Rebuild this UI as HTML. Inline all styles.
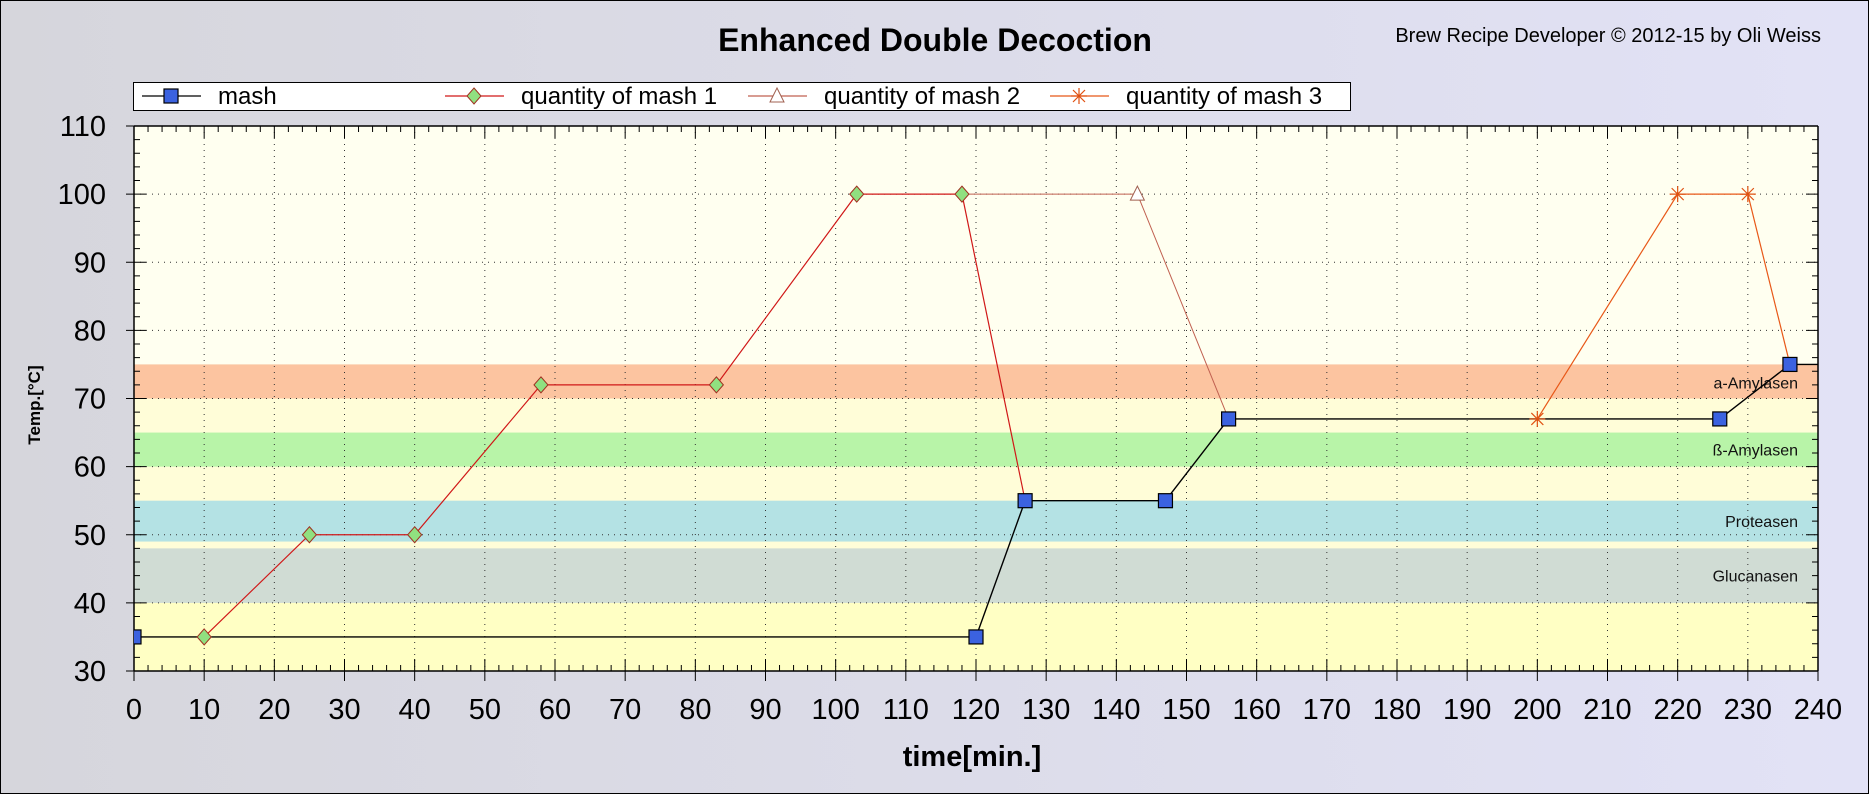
<!DOCTYPE html>
<html><head><meta charset="utf-8"><style>
html,body{margin:0;padding:0}
body{width:1869px;height:794px;overflow:hidden;font-family:"Liberation Sans",sans-serif}
</style></head><body>
<svg id="chart" width="1869" height="794" xmlns="http://www.w3.org/2000/svg" font-family="Liberation Sans, sans-serif">
<defs>
<linearGradient id="bg" x1="0" x2="1" y1="0" y2="0"><stop offset="0" stop-color="#d6d6dc"/><stop offset="1" stop-color="#e2e2f6"/></linearGradient>
<clipPath id="pc"><rect x="134" y="126" width="1684" height="545"/></clipPath>
</defs>
<rect x="0.5" y="0.5" width="1868" height="793" fill="url(#bg)" stroke="#000"/>
<text x="935" y="51" font-size="32" font-weight="bold" text-anchor="middle">Enhanced Double Decoction</text>
<text x="1821" y="42" font-size="20" text-anchor="end">Brew Recipe Developer © 2012-15 by Oli Weiss</text>
<g id="legend"></g>
<g id="plot"></g>
<text x="972" y="766" font-size="29" font-weight="bold" text-anchor="middle">time[min.]</text>
<text transform="translate(40,405) rotate(-90)" font-size="17" font-weight="bold" text-anchor="middle">Temp.[°C]</text>
</svg>
<script>
const mashX=[0,120,127,147,156,226,236,240];
const mashY=[35,35,55,55,67,67,75,75];
const mash1X=[10,25,40,58,83,103,118,127];
const mash1Y=[35,50,50,72,72,100,100,55];
const mash2X=[118,143,156];
const mash2Y=[100,100,67];
const mash3X=[200,220,230,236];
const mash3Y=[67,100,100,75];
const bandNames=["a-Amylasen","ß-Amylasen","Proteasen","Glucanasen"];
const bandLo=[70,60,49,40];
const bandHi=[75,65,55,48];
const xTicks=[0,10,20,30,40,50,60,70,80,90,100,110,120,130,140,150,160,170,180,190,200,210,220,230,240];
const yTicks=[30,40,50,60,70,80,90,100,110];

const L=134,R=1818,T=126,B=671;
const sx=v=>L+(v-0)/240*(R-L);
const sy=v=>B-(v-30)/80*(B-T);
const NS="http://www.w3.org/2000/svg";
const plot=document.getElementById('plot');
function mk(tag,attrs,parent){const e=document.createElementNS(NS,tag);for(const k in attrs)e.setAttribute(k,attrs[k]);(parent||plot).appendChild(e);return e;}

let r;
r=mk('rect',{x:L,y:T,width:R-L,height:sy(75)-T,fill:'#fffff0'});


r=mk('rect',{x:L,y:sy(75),width:R-L,height:sy(40)-sy(75),fill:'#fffdd8'});


r=mk('rect',{x:L,y:sy(40),width:R-L,height:B-sy(40),fill:'#ffffc4'});


const bandCol=['#fcc4a0','#b8f4a8','#b4e2e4','#d0dcd4'];
bandNames.forEach((n,i)=>{
  const b=mk('rect',{x:L,y:sy(bandHi[i]),width:R-L,height:sy(bandLo[i])-sy(bandHi[i]),fill:bandCol[i]});
  
  
});
xTicks.forEach(v=>{const g=mk('line',{x1:sx(v),x2:sx(v),y1:T,y2:B,stroke:'#333','stroke-width':1,'stroke-dasharray':'1,5'});

});
yTicks.forEach(v=>{const g=mk('line',{x1:L,x2:R,y1:sy(v),y2:sy(v),stroke:'#333','stroke-width':1,'stroke-dasharray':'1,5'});

});
bandNames.forEach((n,i)=>{
  const t=mk('text',{x:1798,y:(sy(bandLo[i])+sy(bandHi[i]))/2+(i==0?7:6),'font-size':16,'text-anchor':'end',fill:'#111'});
  t.textContent=n;
  
  
});
mk('line',{x1:L,x2:R,y1:B,y2:B,stroke:'#000','stroke-width':1.5});
mk('line',{x1:L,x2:L,y1:T,y2:B,stroke:'#000','stroke-width':1.5});
mk('line',{x1:L,x2:R,y1:T,y2:T,stroke:'#000','stroke-width':1.5});
mk('line',{x1:R,x2:R,y1:T,y2:B,stroke:'#000','stroke-width':1.5});
for(let v=0;v<=240;v+=2){const maj=v%10==0;
 mk('line',{x1:sx(v),x2:sx(v),y1:B+(maj?10:0),y2:B-(maj?12:6),stroke:'#000'});
 mk('line',{x1:sx(v),x2:sx(v),y1:T,y2:T+(maj?12:6),stroke:'#000'});}
for(let v=30;v<=110;v+=2){const maj=v%10==0;
 mk('line',{x1:L-(maj?8:0),x2:L+(maj?12:6),y1:sy(v),y2:sy(v),stroke:'#000'});
 mk('line',{x1:R,x2:R-(maj?12:6),y1:sy(v),y2:sy(v),stroke:'#000'});}
xTicks.forEach(v=>{const t=mk('text',{x:sx(v),y:719,'font-size':29,'text-anchor':'middle'});t.textContent=v;

});
yTicks.forEach(v=>{const t=mk('text',{x:106,y:sy(v)+10,'font-size':29,'text-anchor':'end'});t.textContent=v;

});

const cg=mk('g',{'clip-path':'url(#pc)'});
function series(X,Y,color,w,name){
  const p=mk('polyline',{points:X.map((x,i)=>sx(x)+','+sy(Y[i])).join(' '),fill:'none',stroke:color,'stroke-width':w},cg);
  
  
}
function marker(type,x,y,parent){
  let e;
  if(type=='sq') e=mk('rect',{x:x-7,y:y-7,width:14,height:14,fill:'#3b62e0',stroke:'#000','stroke-width':1.2},parent);
  else if(type=='dia') e=mk('polygon',{points:`${x},${y-8} ${x+7},${y} ${x},${y+8} ${x-7},${y}`,fill:'#90e080',stroke:'#a03020','stroke-width':1},parent);
  else if(type=='tri') e=mk('polygon',{points:`${x},${y-8} ${x+7},${y+6} ${x-7},${y+6}`,fill:'#fff',stroke:'#a06050','stroke-width':1},parent);
  else {e=mk('g',{stroke:'#e05010','stroke-width':1.2},parent);
    [[-8,0,8,0],[0,-8,0,8],[-6,-6,6,6],[-6,6,6,-6]].forEach(a=>mk('line',{x1:x+a[0],y1:y+a[1],x2:x+a[2],y2:y+a[3]},e));}
  return e;
}
series(mash2X,mash2Y,'#c06050',1,'mash2');
series(mash3X,mash3Y,'#e85818',1.2,'mash3');
series(mash1X,mash1Y,'#d01818',1.2,'mash1');
series(mashX,mashY,'#000',1.4,'mash');
mash1X.forEach((x,i)=>{if(i<mash1X.length-1){const m=marker('dia',sx(x),sy(mash1Y[i]),cg);

}});
[1].forEach(i=>{const m=marker('tri',sx(mash2X[i]),sy(mash2Y[i]),cg);

});
mash3X.forEach((x,i)=>{if(i<mash3X.length-1){const m=marker('star',sx(x),sy(mash3Y[i]),cg);

}});
mashX.forEach((x,i)=>{if(i<mashX.length-1){const m=marker('sq',sx(x),sy(mashY[i]),cg);

}});

const lg=document.getElementById('legend');
mk('rect',{x:133.5,y:82.5,width:1217,height:28,fill:'#fff',stroke:'#000','stroke-width':1},lg);
const legNames=['mash','quantity of mash 1','quantity of mash 2','quantity of mash 3'];
const legX=[142,445,748,1050];
const legType=['sq','dia','tri','star'];
const legCol=['#000','#d01818','#c06050','#e85818'];
legNames.forEach((n,i)=>{
  const g=mk('g',{},lg);
  
  
  mk('line',{x1:legX[i],x2:legX[i]+59,y1:96,y2:96,stroke:legCol[i],'stroke-width':1.2},g);
  marker(legType[i],legX[i]+29,96,g);
  const t=mk('text',{x:legX[i]+76,y:104,'font-size':24},g);t.textContent=n;
});
</script>
</body></html>
